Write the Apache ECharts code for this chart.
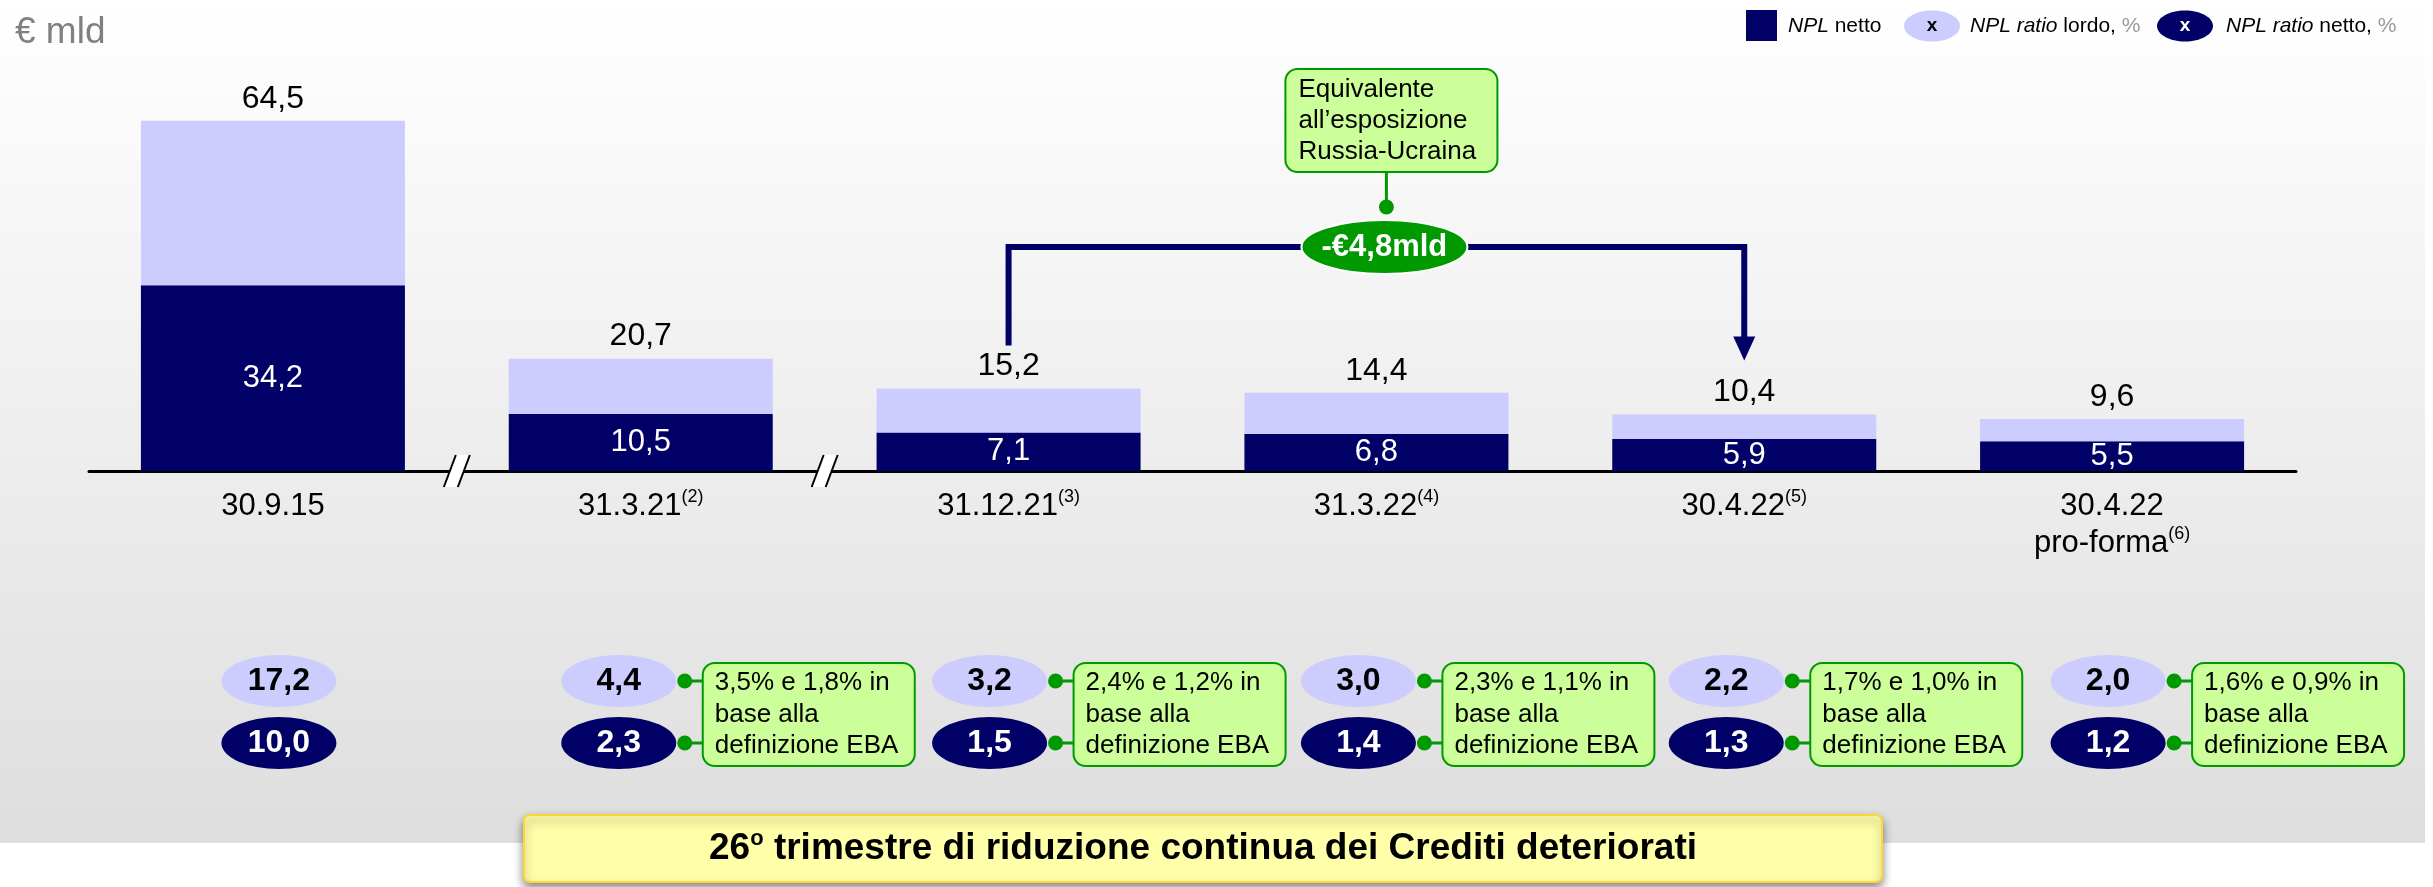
<!DOCTYPE html>
<html>
<head>
<meta charset="utf-8">
<script src="https://cdn.jsdelivr.net/npm/echarts@6/dist/echarts.min.js"></script>
<style>
html, body { margin: 0; padding: 0; background: #fff; }
#main { width: 2433px; height: 887px; }
</style>
</head>
<body>
<div id="main"></div>
<script>
// dati (valori in € mld e in %)
var categories = ['30.9.15', '31.3.21', '31.12.21', '31.3.22', '30.4.22', '30.4.22\npro-forma'];
var notes = ['', '(2)', '(3)', '(4)', '(5)', '(6)'];
var nplLordo = [64.5, 20.7, 15.2, 14.4, 10.4, 9.6];
var nplNetto = [34.2, 10.5, 7.1, 6.8, 5.9, 5.5];
var ratioLordo = [17.2, 4.4, 3.2, 3.0, 2.2, 2.0];
var ratioNetto = [10.0, 2.3, 1.5, 1.4, 1.3, 1.2];
var ebaLordo = [null, 3.5, 2.4, 2.3, 1.7, 1.6];
var ebaNetto = [null, 1.8, 1.2, 1.1, 1.0, 0.9];
var riduzione = 4.8;
var riduzioneDa = 2, riduzioneA = 4;

var FONT = '"Liberation Sans", Arial, sans-serif';
var NAVY = '#000066', LILAC = '#CCCCFF', GREEN = '#009900', PALE = '#CCFF99';
var OVAL = 'path://M0,25 A50,25 0 1,1 100,25 A50,25 0 1,1 0,25 Z';
var ovalShift = [6, -22, -19, -18, -18, -4];

function fmt(v) {
    return v.toFixed(1).replace('.', ',');
}

var chart = echarts.init(document.getElementById('main'));

var option = {
    animation: false,
    textStyle: { fontFamily: FONT },
    title: {
        text: '€ mld',
        left: 10,
        top: 9,
        textStyle: { fontSize: 37, fontWeight: 'normal', color: '#808080', fontFamily: FONT }
    },
    grid: [
        { left: 89, width: 2207, top: 91, height: 380 },
        { left: 89, width: 2207, top: 650, height: 124 }
    ],
    xAxis: [{
        type: 'category',
        gridIndex: 0,
        data: categories,
        axisTick: { show: false },
        axisLine: { lineStyle: { color: '#000', width: 3 } },
        axisLabel: {
            interval: 0,
            margin: 17,
            formatter: function (v, i) {
                return '{m|' + v.split('\n').join('}\n{m|') + '}{s|' + notes[i] + '}';
            },
            rich: {
                m: { fontSize: 31, lineHeight: 37, color: '#000', fontFamily: FONT },
                s: { fontSize: 18, lineHeight: 22, verticalAlign: 'top', color: '#000', fontFamily: FONT }
            }
        }
    }, {
        type: 'category',
        gridIndex: 1,
        data: categories,
        show: false
    }],
    yAxis: [
        { type: 'value', gridIndex: 0, min: 0, max: 70, show: false },
        { type: 'category', gridIndex: 1, data: ['netto', 'lordo'], show: false }
    ],
    series: [{
        name: 'NPL netto',
        type: 'bar',
        stack: 'npl',
        barWidth: 264,
        data: nplNetto,
        itemStyle: { color: NAVY },
        label: {
            show: true,
            position: 'inside',
            color: '#fff',
            fontSize: 31,
            fontFamily: FONT,
            formatter: function (p) { return fmt(p.value); }
        }
    }, {
        name: 'NPL lordo',
        type: 'bar',
        stack: 'npl',
        barWidth: 264,
        data: nplLordo.map(function (v, i) { return +(v - nplNetto[i]).toFixed(1); }),
        itemStyle: { color: LILAC },
        label: {
            show: true,
            position: 'top',
            distance: 6,
            color: '#000',
            fontSize: 32,
            fontFamily: FONT,
            formatter: function (p) { return fmt(nplLordo[p.dataIndex]); }
        }
    }, {
        name: 'NPL ratio lordo',
        type: 'scatter',
        xAxisIndex: 1,
        yAxisIndex: 1,
        symbol: OVAL,
        symbolSize: [115, 52],
        data: ratioLordo.map(function (v, i) {
            return { value: [i, 1, v], symbolOffset: [ovalShift[i], 0] };
        }),
        itemStyle: { color: LILAC, opacity: 1 },
        label: {
            show: true,
            position: 'inside',
            color: '#000',
            fontSize: 32,
            fontWeight: 'bold',
            fontFamily: FONT,
            formatter: function (p) { return fmt(p.value[2]); }
        }
    }, {
        name: 'NPL ratio netto',
        type: 'scatter',
        xAxisIndex: 1,
        yAxisIndex: 1,
        symbol: OVAL,
        symbolSize: [115, 52],
        data: ratioNetto.map(function (v, i) {
            return { value: [i, 0, v], symbolOffset: [ovalShift[i], 0] };
        }),
        itemStyle: { color: NAVY, opacity: 1 },
        label: {
            show: true,
            position: 'inside',
            color: '#fff',
            fontSize: 32,
            fontWeight: 'bold',
            fontFamily: FONT,
            formatter: function (p) { return fmt(p.value[2]); }
        }
    }]
};

chart.setOption(option);

// =================================================================
// elementi grafici posizionati con le scale del grafico
var g = [];

g.push({
    type: 'rect', z: -10, silent: true,
    shape: { x: 0, y: 0, width: 2425, height: 843 },
    style: {
        fill: new echarts.graphic.LinearGradient(0, 0, 0, 1, [
            { offset: 0, color: '#ffffff' },
            { offset: 1, color: '#dedede' }
        ])
    }
});

// interruzioni dell'asse "//"
var by = chart.convertToPixel({ yAxisIndex: 0 }, 0);
for (var k = 0; k < 2; k++) {
    var bx = (chart.convertToPixel({ xAxisIndex: 0 }, k) + chart.convertToPixel({ xAxisIndex: 0 }, k + 1)) / 2;
    g.push({ type: 'polygon', z: 5, shape: { points: [[bx - 13, by + 16], [bx + 1, by + 16], [bx + 13, by - 16], [bx - 1, by - 16]] }, style: { fill: '#fff' } });
    g.push({ type: 'line', z: 5, shape: { x1: bx - 13, y1: by + 16, x2: bx - 1, y2: by - 16 }, style: { stroke: '#000', lineWidth: 2 } });
    g.push({ type: 'line', z: 5, shape: { x1: bx + 1, y1: by + 16, x2: bx + 13, y2: by - 16 }, style: { stroke: '#000', lineWidth: 2 } });
}

// freccia di riduzione
var xa = chart.convertToPixel({ xAxisIndex: 0 }, riduzioneDa);
var xb = chart.convertToPixel({ xAxisIndex: 0 }, riduzioneA);
var ya = chart.convertToPixel({ yAxisIndex: 0 }, nplLordo[riduzioneDa]) - 43;
var yb = chart.convertToPixel({ yAxisIndex: 0 }, nplLordo[riduzioneA]) - 54;
var yTop = 247;
g.push({ type: 'polyline', z: 5, shape: { points: [[xa, ya], [xa, yTop], [xb, yTop], [xb, yb - 20]] }, style: { stroke: NAVY, lineWidth: 6, fill: 'none' } });
g.push({ type: 'polygon', z: 5, shape: { points: [[xb - 11, yb - 24], [xb + 11, yb - 24], [xb, yb]] }, style: { fill: NAVY } });

var cx = (chart.convertToPixel({ xAxisIndex: 0 }, 3)) + 8;
g.push({ type: 'rect', z: 6, shape: { x: cx - 99, y: 69, width: 212, height: 103, r: 12 }, style: { fill: PALE, stroke: GREEN, lineWidth: 2 } });
g.push({ type: 'text', z: 7, style: { x: cx - 86, y: 121, text: 'Equivalente\nall\u2019esposizione\nRussia-Ucraina', fontSize: 26, lineHeight: 31, fontFamily: FONT, fill: '#000', align: 'left', verticalAlign: 'middle' } });
g.push({ type: 'line', z: 6, shape: { x1: cx + 2, y1: 172, x2: cx + 2, y2: 207 }, style: { stroke: GREEN, lineWidth: 3 } });
g.push({ type: 'circle', z: 6, shape: { cx: cx + 2, cy: 207, r: 7.5 }, style: { fill: GREEN } });
g.push({ type: 'ellipse', z: 6, shape: { cx: cx, cy: yTop, rx: 83, ry: 27 }, style: { fill: GREEN, stroke: '#fff', lineWidth: 2 } });
g.push({ type: 'text', z: 7, style: { x: cx, y: yTop, text: '-€' + fmt(riduzione) + 'mld', fontSize: 31, fontWeight: 'bold', fontFamily: FONT, fill: '#fff', align: 'center', verticalAlign: 'middle' } });

// riquadri EBA
var yl = chart.convertToPixel({ yAxisIndex: 1 }, 1);
var yn = chart.convertToPixel({ yAxisIndex: 1 }, 0);
for (var i = 0; i < categories.length; i++) {
    if (ebaLordo[i] === null) continue;
    var ox = chart.convertToPixel({ xAxisIndex: 1 }, i) + ovalShift[i];
    var dotX = ox + 66, boxX = ox + 84;
    [yl, yn].forEach(function (yy) {
        g.push({ type: 'line', z: 5, shape: { x1: dotX, y1: yy, x2: boxX, y2: yy }, style: { stroke: GREEN, lineWidth: 3 } });
        g.push({ type: 'circle', z: 5, shape: { cx: dotX, cy: yy, r: 7.5 }, style: { fill: GREEN } });
    });
    g.push({ type: 'rect', z: 6, shape: { x: boxX, y: yl - 18, width: 212, height: yn - yl + 41, r: 12 }, style: { fill: PALE, stroke: GREEN, lineWidth: 2 } });
    g.push({
        type: 'text', z: 7,
        style: {
            x: boxX + 12, y: (yl - 18 + yn + 23) / 2,
            text: fmt(ebaLordo[i]) + '% e ' + fmt(ebaNetto[i]) + '% in\nbase alla\ndefinizione EBA',
            fontSize: 26, lineHeight: 31.5, fontFamily: FONT, fill: '#000', align: 'left', verticalAlign: 'middle'
        }
    });
}

// legenda
var legRich = {
    i: { fontSize: 21, fontStyle: 'italic', fontFamily: FONT, fill: '#000' },
    n: { fontSize: 21, fontFamily: FONT, fill: '#000' },
    p: { fontSize: 21, fontFamily: FONT, fill: '#999' }
};
g.push({ type: 'rect', z: 5, shape: { x: 1746, y: 10, width: 31, height: 31 }, style: { fill: NAVY } });
g.push({ type: 'text', z: 5, style: { x: 1788, y: 26, text: '{i|NPL}{n| netto}', rich: legRich, align: 'left', verticalAlign: 'middle' } });
g.push({ type: 'ellipse', z: 5, shape: { cx: 1932, cy: 26, rx: 28, ry: 15.5 }, style: { fill: LILAC } });
g.push({ type: 'text', z: 6, style: { x: 1932, y: 26, text: 'x', fontSize: 19, fontWeight: 'bold', fontFamily: FONT, fill: '#000', align: 'center', verticalAlign: 'middle' } });
g.push({ type: 'text', z: 5, style: { x: 1970, y: 26, text: '{i|NPL ratio}{n| lordo, }{p|%}', rich: legRich, align: 'left', verticalAlign: 'middle' } });
g.push({ type: 'ellipse', z: 5, shape: { cx: 2185, cy: 26, rx: 28, ry: 15.5 }, style: { fill: NAVY } });
g.push({ type: 'text', z: 6, style: { x: 2185, y: 26, text: 'x', fontSize: 19, fontWeight: 'bold', fontFamily: FONT, fill: '#fff', align: 'center', verticalAlign: 'middle' } });
g.push({ type: 'text', z: 5, style: { x: 2226, y: 26, text: '{i|NPL ratio}{n| netto, }{p|%}', rich: legRich, align: 'left', verticalAlign: 'middle' } });

// banner in basso
g.push({
    type: 'rect', z: 8,
    shape: { x: 524, y: 815, width: 1358, height: 67, r: 6 },
    style: { fill: '#FFFFAA', stroke: '#FFD633', lineWidth: 2, shadowBlur: 10, shadowOffsetY: 5, shadowColor: 'rgba(0,0,0,0.45)' }
});
g.push({
    type: 'text', z: 9,
    style: {
        x: 1203, y: 849, align: 'center', verticalAlign: 'middle',
        text: '{b|26}{s|o}{b| trimestre di riduzione continua dei Crediti deteriorati}',
        rich: {
            b: { fontSize: 37, fontWeight: 'bold', fontFamily: FONT, fill: '#000', lineHeight: 42 },
            s: { fontSize: 22, fontWeight: 'bold', fontFamily: FONT, fill: '#000', lineHeight: 26, verticalAlign: 'top' }
        }
    }
});

chart.setOption({ graphic: g });
</script>
</body>
</html>
